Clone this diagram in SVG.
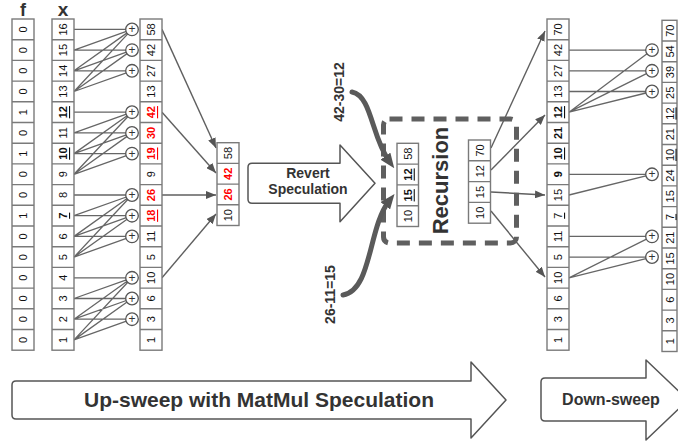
<svg xmlns="http://www.w3.org/2000/svg" width="678" height="444" viewBox="0 0 678 444">
<defs>
<style>
.cell{fill:#fff;stroke:#7a7a7a;stroke-width:1.4}
.div{fill:none;stroke:#7a7a7a;stroke-width:1.4}
.n{font-family:"Liberation Sans",Arial,sans-serif;font-size:11px;fill:#111;text-anchor:middle;dominant-baseline:central}
.b{font-weight:bold}
.u{text-decoration:underline}
.r{fill:#f00}
.ln{fill:none;stroke:#666;stroke-width:1.3}
.ar{fill:none;stroke:#5f5f5f;stroke-width:1.4;marker-end:url(#ah)}
.thick{fill:none;stroke:#5a5a5a;stroke-width:5;stroke-linecap:round;marker-end:url(#ahb)}
.pl{fill:#fff;stroke:#555;stroke-width:1.3}
.ps{font-family:"Liberation Sans",Arial,sans-serif;font-size:12px;fill:#333;text-anchor:middle;dominant-baseline:central}
.lbl{font-family:"Liberation Sans",Arial,sans-serif;font-weight:bold;fill:#333;text-anchor:middle}
.big{fill:#fff;stroke:#555;stroke-width:1.5;stroke-linejoin:round}
.dash{fill:none;stroke:#5f5f5f;stroke-width:5;stroke-dasharray:13 9}
</style>
<marker id="ah" viewBox="0 0 10 8" refX="10" refY="4" markerWidth="10" markerHeight="8" markerUnits="userSpaceOnUse" orient="auto"><path d="M0,0 L10,4 L0,8 z" fill="#555"/></marker>
<marker id="ahb" viewBox="0 0 10 8" refX="4" refY="4" markerWidth="3" markerHeight="2.4" orient="auto"><path d="M0,0 L10,4 L0,8 z" fill="#555"/></marker>
</defs>
<rect width="678" height="444" fill="#fff"/>

<!-- bottom block arrows -->
<g id="upsweep">
<path class="big" d="M16,381 H471 V362 L506,400 L471,438 V419 H16 Q12,419 12,415 V385 Q12,381 16,381 Z"/>
<text class="lbl" x="259" y="407" font-size="21">Up-sweep with MatMul Speculation</text>
</g>
<g id="downsweep">
<path class="big" d="M545,378 H646 V360 L688,400 L646,440 V421 H545 Q541,421 541,417 V382 Q541,378 545,378 Z"/>
<text class="lbl" x="611" y="405" font-size="16">Down-sweep</text>
</g>
<g id="revert">
<path class="big" d="M252,163.3 H340 V145 L375,183.3 L340,221.7 V203.3 H252 Q248,203.3 248,199.3 V167.3 Q248,163.3 252,163.3 Z"/>
<text class="lbl" x="308" y="178" font-size="14">Revert</text>
<text class="lbl" x="308" y="194" font-size="14">Speculation</text>
</g>

<!-- recursion box -->
<g id="recursion">
<rect class="dash" x="383.5" y="119" width="133" height="124" rx="6"/>
<text class="lbl" font-size="22" fill="#444" transform="translate(448,180.5) rotate(-90)">Recursion</text>
</g>

<!-- connectors -->
<g id="connectors">
<path class="ln" d="M74,29.4 L132,29.4 M74,50.1 L132,29.4 M74,50.1 L132,50.1 M74,70.8 L132,29.4 M74,70.8 L132,50.1 M74,70.8 L132,70.8 M74,91.5 L132,29.4 M74,91.5 L132,50.1 M74,91.5 L132,70.8
M74,112.2 L132,112.2 M74,132.9 L132,112.2 M74,132.9 L132,132.9 M74,153.6 L132,112.2 M74,153.6 L132,132.9 M74,153.6 L132,153.6 M74,174.3 L132,112.2 M74,174.3 L132,132.9 M74,174.3 L132,153.6
M74,195 L132,195 M74,215.7 L132,195 M74,215.7 L132,215.7 M74,236.4 L132,195 M74,236.4 L132,215.7 M74,236.4 L132,236.4 M74,257.1 L132,195 M74,257.1 L132,215.7 M74,257.1 L132,236.4
M74,277.8 L132,277.8 M74,298.5 L132,277.8 M74,298.5 L132,298.5 M74,319.2 L132,277.8 M74,319.2 L132,298.5 M74,319.2 L132,319.2 M74,339.9 L132,277.8 M74,339.9 L132,298.5 M74,339.9 L132,319.2"/>
<path class="ln" d="M569,50.1 L652,50.1 M569,70.8 L652,70.8 M569,91.5 L652,91.5 M569,112.2 L652,50.1 M569,112.2 L652,70.8 M569,112.2 L652,91.5
M569,174.3 L652,174.3 M569,195 L652,174.3
M569,236.4 L652,236.4 M569,257.1 L652,257.1 M569,277.8 L652,236.4 M569,277.8 L652,257.1"/>
<path class="ar" d="M162,29.4 L216,148"/>
<path class="ar" d="M162,112.2 L216,173"/>
<path class="ar" d="M162,195 L216,195"/>
<path class="ar" d="M162,277.8 L216,214"/>
<path class="ar" d="M491,148 L545,31"/>
<path class="ar" d="M491,170 L545,115"/>
<path class="ar" d="M491,192 L545,195"/>
<path class="ar" d="M491,211 L545,277"/>
<path class="thick" d="M352,92 C372,96 371,136 389,161"/>
<path class="thick" d="M343,295 C372,290 368,228 389,201"/>
<text class="lbl" font-size="14" transform="translate(344,92) rotate(-90)">42-30=12</text>
<text class="lbl" font-size="14" transform="translate(335,294.5) rotate(-90)">26-11=15</text>
</g>

<!-- plus circles -->
<g id="plus-left">
<circle class="pl" cx="132" cy="29.4" r="6.3"/><circle class="pl" cx="132" cy="50.1" r="6.3"/><circle class="pl" cx="132" cy="70.8" r="6.3"/>
<circle class="pl" cx="132" cy="112.2" r="6.3"/><circle class="pl" cx="132" cy="132.9" r="6.3"/><circle class="pl" cx="132" cy="153.6" r="6.3"/>
<circle class="pl" cx="132" cy="195" r="6.3"/><circle class="pl" cx="132" cy="215.7" r="6.3"/><circle class="pl" cx="132" cy="236.4" r="6.3"/>
<circle class="pl" cx="132" cy="277.8" r="6.3"/><circle class="pl" cx="132" cy="298.5" r="6.3"/><circle class="pl" cx="132" cy="319.2" r="6.3"/>
<text class="ps" x="132" y="29.4">+</text><text class="ps" x="132" y="50.1">+</text><text class="ps" x="132" y="70.8">+</text>
<text class="ps" x="132" y="112.2">+</text><text class="ps" x="132" y="132.9">+</text><text class="ps" x="132" y="153.6">+</text>
<text class="ps" x="132" y="195">+</text><text class="ps" x="132" y="215.7">+</text><text class="ps" x="132" y="236.4">+</text>
<text class="ps" x="132" y="277.8">+</text><text class="ps" x="132" y="298.5">+</text><text class="ps" x="132" y="319.2">+</text>
</g>
<g id="plus-right">
<circle class="pl" cx="652" cy="50.1" r="6.3"/><circle class="pl" cx="652" cy="70.8" r="6.3"/><circle class="pl" cx="652" cy="91.5" r="6.3"/>
<circle class="pl" cx="652" cy="174.3" r="6.3"/><circle class="pl" cx="652" cy="236.4" r="6.3"/><circle class="pl" cx="652" cy="257.1" r="6.3"/>
<text class="ps" x="652" y="50.1">+</text><text class="ps" x="652" y="70.8">+</text><text class="ps" x="652" y="91.5">+</text>
<text class="ps" x="652" y="174.3">+</text><text class="ps" x="652" y="236.4">+</text><text class="ps" x="652" y="257.1">+</text>
</g>

<!-- column labels -->
<text class="lbl" x="23" y="16" font-size="18">f</text>
<text class="lbl" x="63" y="16" font-size="19">x</text>

<!-- f column -->
<g id="col-f">
<rect class="cell" x="12" y="19" width="22" height="331.2"/>
<path class="div" d="M12,39.7H34M12,60.4H34M12,81.1H34M12,101.8H34M12,122.5H34M12,143.2H34M12,163.9H34M12,184.6H34M12,205.3H34M12,226H34M12,246.7H34M12,267.4H34M12,288.1H34M12,308.8H34M12,329.5H34"/>
<g class="n">
<text transform="translate(23,29.4) rotate(-90)">0</text>
<text transform="translate(23,50.1) rotate(-90)">0</text>
<text transform="translate(23,70.8) rotate(-90)">0</text>
<text transform="translate(23,91.5) rotate(-90)">0</text>
<text transform="translate(23,112.2) rotate(-90)">1</text>
<text transform="translate(23,132.9) rotate(-90)">0</text>
<text transform="translate(23,153.6) rotate(-90)">1</text>
<text transform="translate(23,174.3) rotate(-90)">0</text>
<text transform="translate(23,195) rotate(-90)">0</text>
<text transform="translate(23,215.7) rotate(-90)">1</text>
<text transform="translate(23,236.4) rotate(-90)">0</text>
<text transform="translate(23,257.1) rotate(-90)">0</text>
<text transform="translate(23,277.8) rotate(-90)">0</text>
<text transform="translate(23,298.5) rotate(-90)">0</text>
<text transform="translate(23,319.2) rotate(-90)">0</text>
<text transform="translate(23,339.9) rotate(-90)">0</text>
</g>
</g>

<!-- x column -->
<g id="col-x">
<rect class="cell" x="52" y="19" width="22" height="331.2"/>
<path class="div" d="M52,39.7H74M52,60.4H74M52,81.1H74M52,101.8H74M52,122.5H74M52,143.2H74M52,163.9H74M52,184.6H74M52,205.3H74M52,226H74M52,246.7H74M52,267.4H74M52,288.1H74M52,308.8H74M52,329.5H74"/>
<g class="n">
<text transform="translate(63,29.4) rotate(-90)">16</text>
<text transform="translate(63,50.1) rotate(-90)">15</text>
<text transform="translate(63,70.8) rotate(-90)">14</text>
<text transform="translate(63,91.5) rotate(-90)">13</text>
<text class="b u" transform="translate(63,112.2) rotate(-90)">12</text>
<text transform="translate(63,132.9) rotate(-90)">11</text>
<text class="b u" transform="translate(63,153.6) rotate(-90)">10</text>
<text transform="translate(63,174.3) rotate(-90)">9</text>
<text transform="translate(63,195) rotate(-90)">8</text>
<text class="b u" transform="translate(63,215.7) rotate(-90)">7</text>
<text transform="translate(63,236.4) rotate(-90)">6</text>
<text transform="translate(63,257.1) rotate(-90)">5</text>
<text transform="translate(63,277.8) rotate(-90)">4</text>
<text transform="translate(63,298.5) rotate(-90)">3</text>
<text transform="translate(63,319.2) rotate(-90)">2</text>
<text transform="translate(63,339.9) rotate(-90)">1</text>
</g>
</g>

<!-- speculative result column -->
<g id="col-spec">
<rect class="cell" x="140" y="19" width="22" height="331.2"/>
<path class="div" d="M140,39.7H162M140,60.4H162M140,81.1H162M140,101.8H162M140,122.5H162M140,143.2H162M140,163.9H162M140,184.6H162M140,205.3H162M140,226H162M140,246.7H162M140,267.4H162M140,288.1H162M140,308.8H162M140,329.5H162"/>
<g class="n">
<text transform="translate(151,29.4) rotate(-90)">58</text>
<text transform="translate(151,50.1) rotate(-90)">42</text>
<text transform="translate(151,70.8) rotate(-90)">27</text>
<text transform="translate(151,91.5) rotate(-90)">13</text>
<text class="b u r" transform="translate(151,112.2) rotate(-90)">42</text>
<text class="b r" transform="translate(151,132.9) rotate(-90)">30</text>
<text class="b u r" transform="translate(151,153.6) rotate(-90)">19</text>
<text transform="translate(151,174.3) rotate(-90)">9</text>
<text class="b r" transform="translate(151,195) rotate(-90)">26</text>
<text class="b u r" transform="translate(151,215.7) rotate(-90)">18</text>
<text transform="translate(151,236.4) rotate(-90)">11</text>
<text transform="translate(151,257.1) rotate(-90)">5</text>
<text transform="translate(151,277.8) rotate(-90)">10</text>
<text transform="translate(151,298.5) rotate(-90)">6</text>
<text transform="translate(151,319.2) rotate(-90)">3</text>
<text transform="translate(151,339.9) rotate(-90)">1</text>
</g>
</g>

<!-- reduced column -->
<g id="col-reduced">
<rect class="cell" x="217" y="142.7" width="22" height="82.8"/>
<path class="div" d="M217,163.4H239M217,184.1H239M217,204.8H239"/>
<g class="n">
<text transform="translate(228,153.05) rotate(-90)">58</text>
<text class="b r" transform="translate(228,173.75) rotate(-90)">42</text>
<text class="b r" transform="translate(228,194.45) rotate(-90)">26</text>
<text transform="translate(228,215.15) rotate(-90)">10</text>
</g>
</g>

<!-- recursion input -->
<g id="col-rec-in">
<rect class="cell" x="397" y="143.3" width="21.5" height="83.2"/>
<path class="div" d="M397,164.1H418.5M397,184.9H418.5M397,205.7H418.5"/>
<g class="n">
<text transform="translate(407.7,153.7) rotate(-90)">58</text>
<text class="b u" transform="translate(407.7,174.5) rotate(-90)">12</text>
<text class="b u" transform="translate(407.7,195.3) rotate(-90)">15</text>
<text transform="translate(407.7,216.1) rotate(-90)">10</text>
</g>
</g>

<!-- recursion output -->
<g id="col-rec-out">
<rect class="cell" x="468.5" y="140" width="22" height="83.2"/>
<path class="div" d="M468.5,160.8H490.5M468.5,181.6H490.5M468.5,202.4H490.5"/>
<g class="n">
<text transform="translate(479.5,150.4) rotate(-90)">70</text>
<text transform="translate(479.5,171.2) rotate(-90)">12</text>
<text transform="translate(479.5,192) rotate(-90)">15</text>
<text transform="translate(479.5,212.8) rotate(-90)">10</text>
</g>
</g>

<!-- corrected column -->
<g id="col-corrected">
<rect class="cell" x="547" y="19" width="22" height="331.2"/>
<path class="div" d="M547,39.7H569M547,60.4H569M547,81.1H569M547,101.8H569M547,122.5H569M547,143.2H569M547,163.9H569M547,184.6H569M547,205.3H569M547,226H569M547,246.7H569M547,267.4H569M547,288.1H569M547,308.8H569M547,329.5H569"/>
<g class="n">
<text transform="translate(558,29.4) rotate(-90)">70</text>
<text transform="translate(558,50.1) rotate(-90)">42</text>
<text transform="translate(558,70.8) rotate(-90)">27</text>
<text transform="translate(558,91.5) rotate(-90)">13</text>
<text class="b u" transform="translate(558,112.2) rotate(-90)">12</text>
<text class="b" transform="translate(558,132.9) rotate(-90)">21</text>
<text class="b u" transform="translate(558,153.6) rotate(-90)">10</text>
<text class="b" transform="translate(558,174.3) rotate(-90)">9</text>
<text transform="translate(558,195) rotate(-90)">15</text>
<text class="u" transform="translate(558,215.7) rotate(-90)">7</text>
<text transform="translate(558,236.4) rotate(-90)">11</text>
<text transform="translate(558,257.1) rotate(-90)">5</text>
<text transform="translate(558,277.8) rotate(-90)">10</text>
<text transform="translate(558,298.5) rotate(-90)">6</text>
<text transform="translate(558,319.2) rotate(-90)">3</text>
<text transform="translate(558,339.9) rotate(-90)">1</text>
</g>
</g>

<!-- final column -->
<g id="col-final">
<rect class="cell" x="662" y="20.3" width="15" height="331.2"/>
<path class="div" d="M662,41H677M662,61.7H677M662,82.4H677M662,103.1H677M662,123.8H677M662,144.5H677M662,165.2H677M662,185.9H677M662,206.6H677M662,227.3H677M662,248H677M662,268.7H677M662,289.4H677M662,310.1H677M662,330.8H677"/>
<g class="n">
<text transform="translate(669.5,30.7) rotate(-90)">70</text>
<text transform="translate(669.5,51.4) rotate(-90)">54</text>
<text transform="translate(669.5,72.1) rotate(-90)">39</text>
<text transform="translate(669.5,92.8) rotate(-90)">25</text>
<text class="u" transform="translate(669.5,113.5) rotate(-90)">12</text>
<text transform="translate(669.5,134.2) rotate(-90)">21</text>
<text class="u" transform="translate(669.5,154.9) rotate(-90)">10</text>
<text transform="translate(669.5,175.6) rotate(-90)">24</text>
<text transform="translate(669.5,196.3) rotate(-90)">15</text>
<text class="u" transform="translate(669.5,217) rotate(-90)">7</text>
<text transform="translate(669.5,237.7) rotate(-90)">21</text>
<text transform="translate(669.5,258.4) rotate(-90)">15</text>
<text transform="translate(669.5,279.1) rotate(-90)">10</text>
<text transform="translate(669.5,299.8) rotate(-90)">6</text>
<text transform="translate(669.5,320.5) rotate(-90)">3</text>
<text transform="translate(669.5,341.2) rotate(-90)">1</text>
</g>
</g>
</svg>
